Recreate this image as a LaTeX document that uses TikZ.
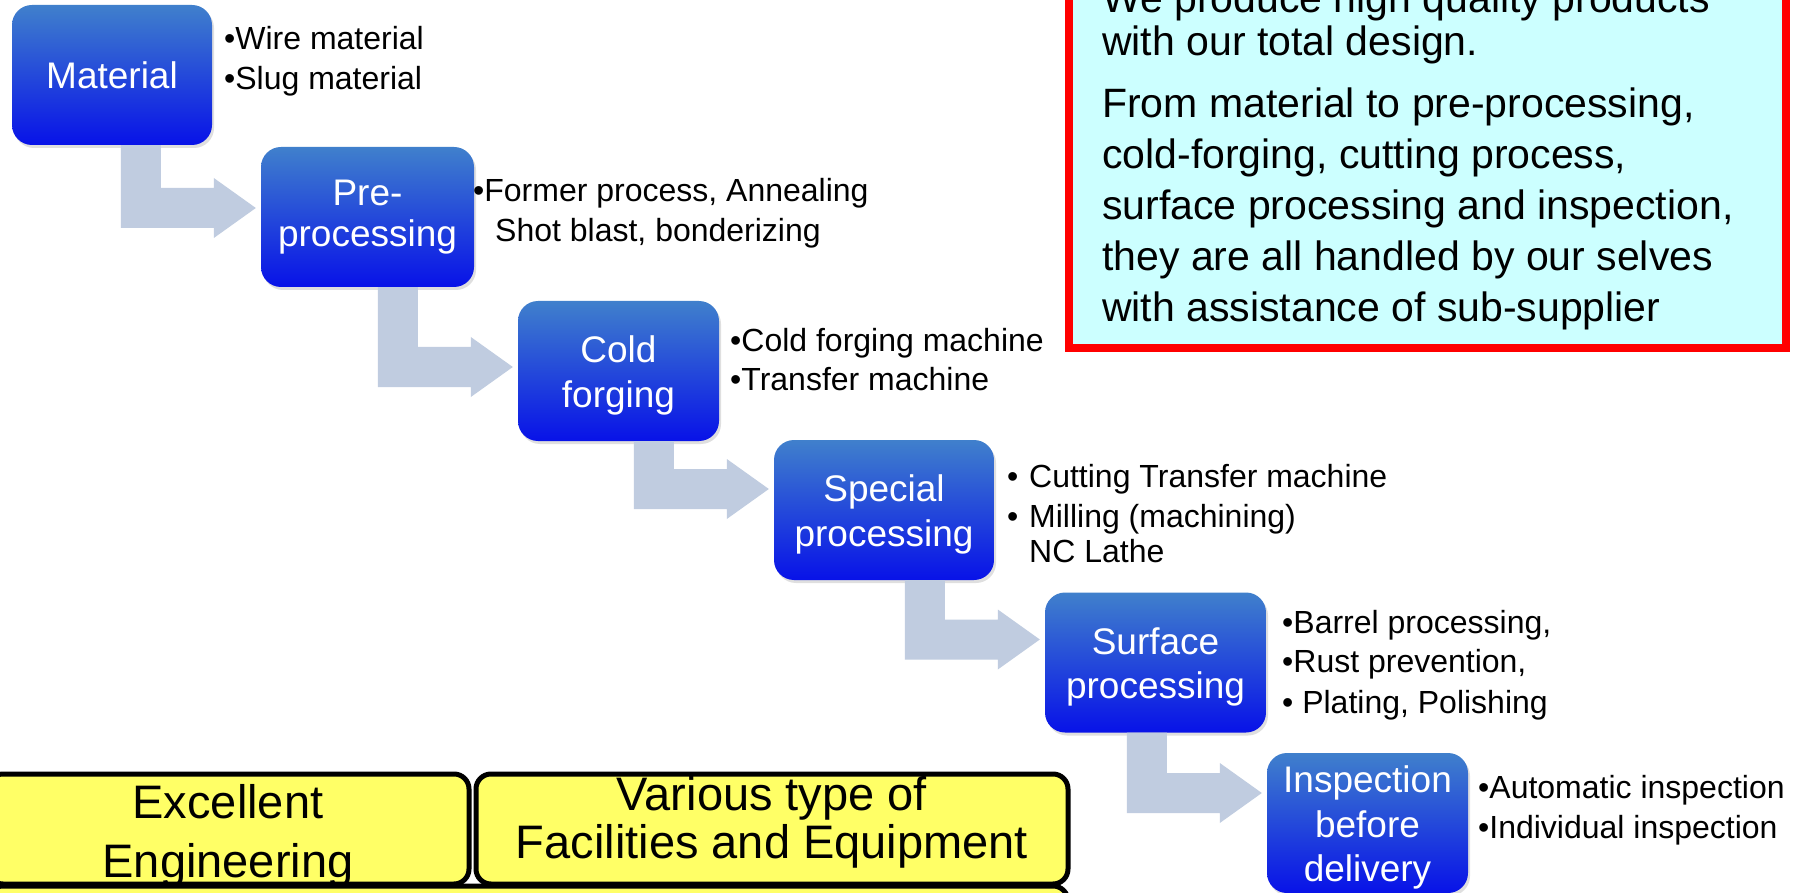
\documentclass[tikz,border=0pt]{standalone}
\usepackage{fontspec}
\setmainfont{Liberation Sans}
\usetikzlibrary{calc,shadows}
\definecolor{boxtop}{RGB}{64,128,204}
\definecolor{boxbot}{RGB}{8,18,232}
\definecolor{arrowc}{RGB}{192,204,224}
\definecolor{cyanbg}{RGB}{204,255,255}
\definecolor{yel}{RGB}{255,255,102}
\newcommand\tstrut{\rule{0pt}{36pt}}
\tikzset{
 proc/.style={rounded corners=20pt, top color=boxtop, bottom color=boxbot, text=white,
   align=center, inner sep=0pt, minimum height=140pt,
   font=\fontsize{37}{44.5}\selectfont,
   drop shadow={opacity=0.25, shadow xshift=2pt, shadow yshift=-3pt}},
 bul/.style={anchor=base west, inner sep=0pt, font=\fontsize{32}{38}\selectfont},
 redtxt/.style={anchor=base west, inner sep=0pt, font=\fontsize{41}{50}\selectfont},
 yeltxt/.style={anchor=base, inner sep=0pt, font=\fontsize{47}{56}\selectfont},
 yelbox/.style={draw=black, line width=5pt, fill=yel, rounded corners=15pt, inner sep=0pt},
 notebox/.style={draw=red, line width=8pt, fill=cyanbg, inner sep=0pt,
   drop shadow={opacity=0.25, shadow xshift=0pt, shadow yshift=-4pt}},
 flow/.style={fill=arrowc},
}
\newcommand\flowarrow[3]{%
 \coordinate (t) at ($(#2.west)+(-5,#3)$);
 \coordinate (l) at ($(t)+(-135,0)$);
 \coordinate (r) at ($(t)+(-95,0)$);
 \coordinate (h) at ($(t)+(-42,0)$);
 \fill[flow] (l |- #1.south) -- (r |- #1.south) -- ($(r)+(0,-20)$) -- ($(h)+(0,-20)$)
   -- ($(h)+(0,-30)$) -- (t) -- ($(h)+(0,30)$) -- ($(h)+(0,20)$) -- ($(l)+(0,20)$) -- cycle;
}
\begin{document}
\begin{tikzpicture}[x=1pt,y=-1pt]
\useasboundingbox (0,0) rectangle (1797,893);
\clip (0,0) rectangle (1797,893);
\fill[white] (0,0) rectangle (1797,893);

% note box
\node[notebox, minimum width=717pt, minimum height=398pt] (note) at (1427.5,149) {};
\node[redtxt] (n1) at (1102,13) {We produce high quality products};
\node[redtxt] (n2) at (1102,56) {with our total design.};
\node[redtxt] (n3) at (1102,118) {From material to pre-processing,};
\node[redtxt] (n4) at (1102,169) {cold-forging, cutting process,};
\node[redtxt] (n5) at (1102,220) {surface processing and inspection,};
\node[redtxt] (n6) at (1102,271) {they are all handled by our selves};
\node[redtxt] (n7) at (1102,322) {with assistance of sub-supplier};

% process boxes
\node[proc, minimum width=200pt] (mat) at (112,75) {Material};
\node[proc, minimum width=213pt] (pre) at (367.5,217) {Pre-\\[-3pt]processing};
\node[proc, minimum width=201pt] (cold) at (618.5,371) {\tstrut Cold\\forging};
\node[proc, minimum width=220pt] (spec) at (884,510) {\tstrut Special\\processing};
\node[proc, minimum width=221pt] (surf) at (1155.5,662.5) {\tstrut Surface\\processing};
\node[proc, minimum width=201pt] (insp) at (1367.5,823) {\tstrut Inspection\\before\\delivery};

% connectors
\flowarrow{mat}{pre}{-9}
\flowarrow{pre}{cold}{-4}
\flowarrow{cold}{spec}{-21}
\flowarrow{spec}{surf}{-23}
\flowarrow{surf}{insp}{-30}

% bullet texts
\node[bul] (b1a) at (224,50) {•Wire material};
\node[bul] (b1b) at (224,90) {•Slug material};
\node[bul] (b2a) at (473,202) {•Former process, Annealing};
\node[bul] (b2b) at (495,242) {Shot blast, bonderizing};
\node[bul] (b3a) at (730,352) {•Cold forging machine};
\node[bul] (b3b) at (730,390) {•Transfer machine};
\node[bul] (b4a) at (1007,487) {\makebox[22pt][l]{•}Cutting Transfer machine};
\node[bul] (b4b) at (1007,527) {\makebox[22pt][l]{•}Milling (machining)};
\node[bul] (b4c) at (1029,562) {NC Lathe};
\node[bul] (b5a) at (1282,633) {•Barrel processing,};
\node[bul] (b5b) at (1282,672) {•Rust prevention,};
\node[bul] (b5c) at (1282,713) {• Plating, Polishing};
\node[bul] (b6a) at (1478,798) {•Automatic inspection};
\node[bul] (b6b) at (1478,838) {•Individual inspection};

% yellow boxes
\node[yelbox, minimum width=1080pt, minimum height=114pt] (y3) at (528,943) {};
\node[yelbox, minimum width=481pt, minimum height=110pt] (y1) at (228.5,829) {};
\node[yelbox, minimum width=592pt, minimum height=110pt] (y2) at (772,829) {};
\node[yeltxt] (y1a) at (228,818) {Excellent};
\node[yeltxt] (y1b) at (228,877) {Engineering};
\node[yeltxt] (y2a) at (772,810) {Various type of};
\node[yeltxt] (y2b) at (772,858) {Facilities and Equipment};
\end{tikzpicture}
\end{document}
